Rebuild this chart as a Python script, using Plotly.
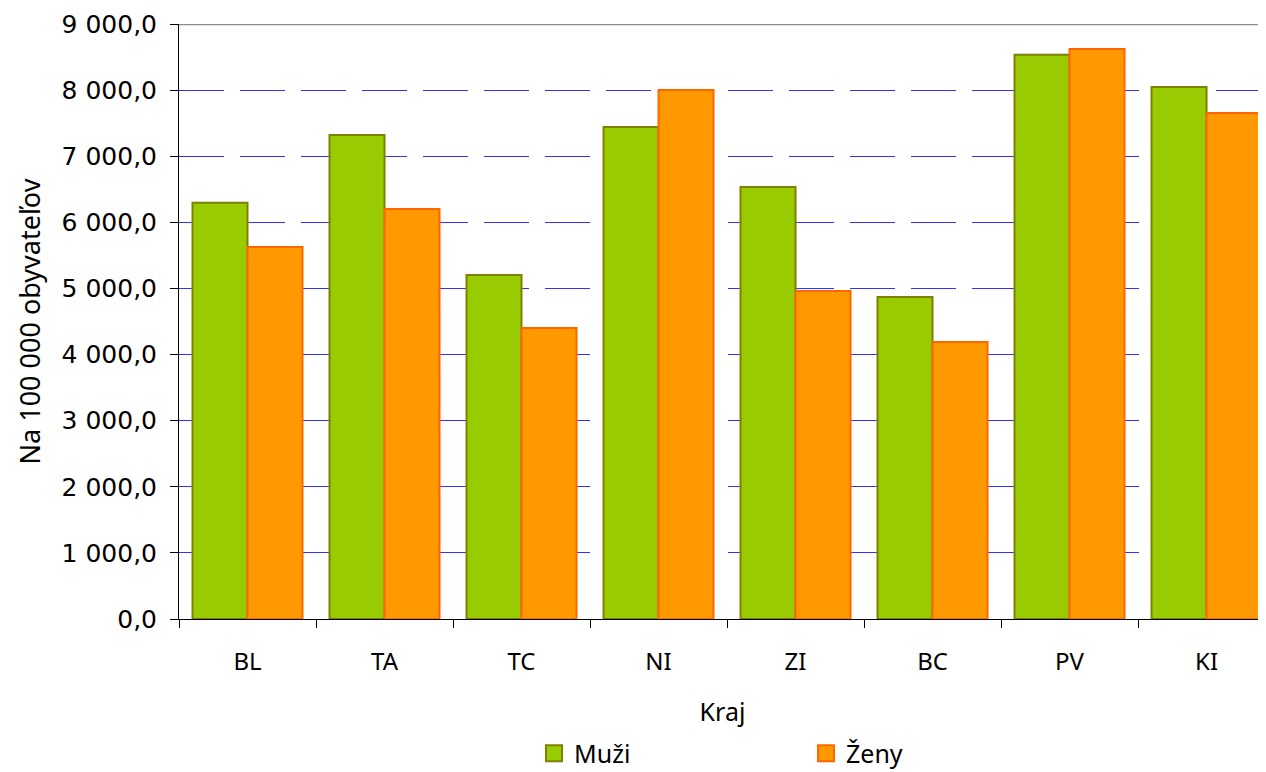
import plotly.graph_objects as go

categories = ["BL", "TA", "TC", "NI", "ZI", "BC", "PV", "KI"]
muzi = [6295, 7322, 5205, 7443, 6536, 4871, 8533, 8048]
zeny = [5628, 6203, 4402, 8003, 4962, 4191, 8623, 7655]
y_ticks = [0, 1000, 2000, 3000, 4000, 5000, 6000, 7000, 8000, 9000]

font_family = "Noto Sans, Open Sans, sans-serif"
green, green_line = "#99CC00", "#808000"
orange, orange_line = "#FF9900", "#FF6600"

fig = go.Figure()
fig.add_trace(go.Bar(
    x=categories, y=muzi, name="Muži", showlegend=False,
    marker=dict(color=green, line=dict(color=green_line, width=2)),
))
fig.add_trace(go.Bar(
    x=categories, y=zeny, name="Ženy", showlegend=False,
    marker=dict(color=orange, line=dict(color=orange_line, width=2)),
))
# legend entries with larger square swatches
fig.add_trace(go.Scatter(
    x=[None], y=[None], mode="markers", name="Muži",
    marker=dict(symbol="square", size=16, color=green, line=dict(color=green_line, width=2)),
))
fig.add_trace(go.Scatter(
    x=[None], y=[None], mode="markers", name="Ženy",
    marker=dict(symbol="square", size=16, color=orange, line=dict(color=orange_line, width=2)),
))

fig.add_shape(type="line", xref="paper", yref="y", x0=0, x1=1, y0=9000, y1=9000,
              line=dict(color="#8c8c8c", width=2.5))

# y-axis title as annotation for precise placement
fig.add_annotation(text="Na 100 000 obyvateľov", xref="paper", yref="paper",
                   x=0, y=0.5, xanchor="center", yanchor="middle", xshift=-150,
                   textangle=-90, showarrow=False, font=dict(size=27))

fig.update_layout(
    width=1258, height=764,
    margin=dict(l=171, r=0, t=16, b=153, autoexpand=False),
    paper_bgcolor="white", plot_bgcolor="white",
    barmode="group", bargap=0.197, bargroupgap=0,
    separators=", ",
    font=dict(family=font_family, size=24, color="#000000"),
    showlegend=True,
    legend=dict(orientation="h", x=0.3266, xanchor="left", y=-0.226, yanchor="middle",
                entrywidth=227, font=dict(size=25), itemsizing="trace",
                traceorder="normal", itemwidth=30),
    xaxis=dict(
        range=[-0.5, 7.434], tickson="boundaries", ticks="outside", ticklen=8,
        tickcolor="#000000", showline=True, linecolor="#000000", linewidth=1,
        showgrid=False, tickfont=dict(size=24), ticklabelstandoff=21,
        title=dict(text="Kraj", standoff=27, font=dict(size=25)),
    ),
    yaxis=dict(
        range=[0, 9000], tickvals=y_ticks, tickformat=",.1f", ticks="outside", ticklen=8,
        tickcolor="#000000", showline=True, linecolor="#000000", linewidth=1,
        showgrid=True, gridcolor="#3333FF", gridwidth=1, griddash="45px,16px",
        zeroline=False, tickfont=dict(size=25, family="DejaVu Sans"),
        ticklabelstandoff=8,
    ),
)

fig.write_html("out.html")
